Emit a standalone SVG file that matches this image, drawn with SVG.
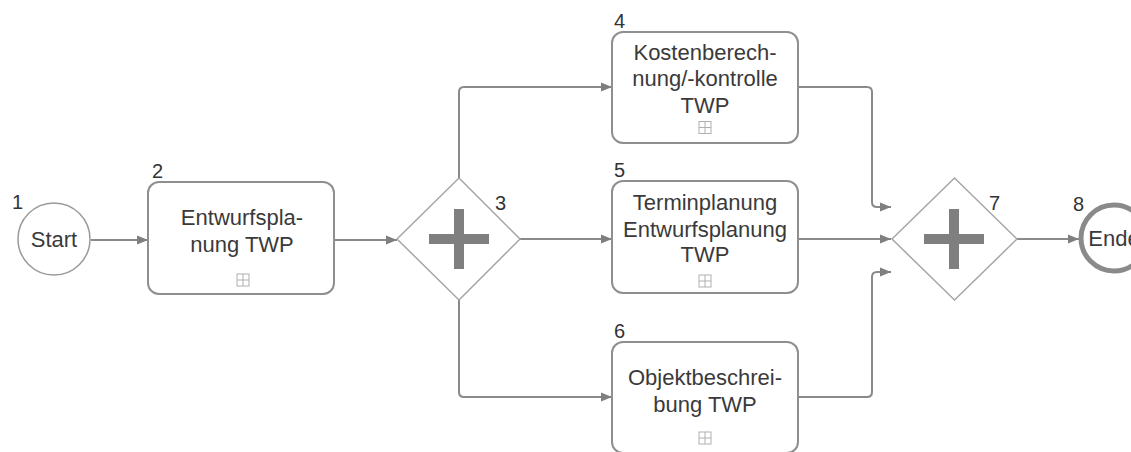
<svg xmlns="http://www.w3.org/2000/svg" width="1131" height="452" viewBox="0 0 1131 452">
<style>
.task{fill:#fff;stroke:#8f8f8f;stroke-width:2}
.gw{fill:#fff;stroke:#a6a6a6;stroke-width:1.5}
.plus{fill:#7f7f7f}
.lbl{font-family:"Liberation Sans",Arial,sans-serif;font-size:22px;fill:#3a3a3a;text-anchor:middle}
.num{font-family:"Liberation Sans",Arial,sans-serif;font-size:20px;fill:#333}
.sub{fill:#fff;stroke:#b0b0b0;stroke-width:1}
.edge{fill:none;stroke:#8a8a8a;stroke-width:2}
</style>
<defs>
<marker id="arr" markerUnits="userSpaceOnUse" markerWidth="12" markerHeight="10" refX="11" refY="5" orient="auto">
<path d="M0,0.5 L11,5 L0,9.5 z" fill="#7f7f7f"/>
</marker>
<g id="submark">
<rect class="sub" x="-6" y="-6" width="12" height="12"/>
<path d="M0,-6 V6 M-6,0 H6" stroke="#b0b0b0" stroke-width="1"/>
</g>
</defs>
<rect width="1131" height="452" fill="#fff"/>

<g id="connectors">
<path class="edge" marker-end="url(#arr)" d="M91,240 H148"/>
<path class="edge" marker-end="url(#arr)" d="M334,240 H397"/>
<path class="edge" marker-end="url(#arr)" d="M459,178 V92 Q459,87 464,87 H612"/>
<path class="edge" marker-end="url(#arr)" d="M520,239 H612"/>
<path class="edge" marker-end="url(#arr)" d="M459,300 V392 Q459,397 464,397 H612"/>
<path class="edge" marker-end="url(#arr)" d="M798,87 H867 Q872,87 872,92 V202 Q872,207 877,207 H891"/>
<path class="edge" marker-end="url(#arr)" d="M798,239 H891"/>
<path class="edge" marker-end="url(#arr)" d="M798,397 H867 Q872,397 872,392 V277 Q872,272 877,272 H891"/>
<path class="edge" marker-end="url(#arr)" d="M1017,239 H1079"/>
</g>

<g id="node1">
<circle cx="54" cy="239" r="36" fill="#fff" stroke="#9a9a9a" stroke-width="1.5"/>
<text class="lbl" x="54" y="247">Start</text>
<text class="num" x="12" y="209">1</text>
</g>

<g id="node2">
<rect class="task" x="148" y="182" width="186" height="112" rx="11"/>
<text class="lbl" x="242" y="225">Entwurfspla-</text>
<text class="lbl" x="242" y="251.5">nung TWP</text>
<use href="#submark" x="243" y="280"/>
<text class="num" x="152" y="178">2</text>
</g>

<g id="node3">
<polygon class="gw" points="459,178 520,239 459,300 397,239"/>
<rect class="plus" x="429" y="234" width="60" height="10"/>
<rect class="plus" x="454" y="209" width="10" height="60"/>
<text class="num" x="495" y="210">3</text>
</g>

<g id="node4">
<rect class="task" x="612" y="32" width="186" height="111" rx="11"/>
<text class="lbl" x="705" y="59.5">Kostenberech-</text>
<text class="lbl" x="705" y="86">nung/-kontrolle</text>
<text class="lbl" x="705" y="112.5">TWP</text>
<use href="#submark" x="705" y="127.5"/>
<text class="num" x="614" y="28">4</text>
</g>

<g id="node5">
<rect class="task" x="612" y="181" width="186" height="112" rx="11"/>
<text class="lbl" x="705" y="210">Terminplanung</text>
<text class="lbl" x="705" y="236.5">Entwurfsplanung</text>
<text class="lbl" x="705" y="262">TWP</text>
<use href="#submark" x="705" y="281"/>
<text class="num" x="614" y="177">5</text>
</g>

<g id="node6">
<rect class="task" x="612" y="342" width="186" height="111" rx="11"/>
<text class="lbl" x="705" y="385">Objektbeschrei-</text>
<text class="lbl" x="705" y="411.5">bung TWP</text>
<use href="#submark" x="705" y="438"/>
<text class="num" x="614" y="338">6</text>
</g>

<g id="node7">
<polygon class="gw" points="954.5,178 1017,239 954.5,300 892,239"/>
<rect class="plus" x="924" y="234" width="60" height="10"/>
<rect class="plus" x="949" y="209" width="10" height="60"/>
<text class="num" x="989" y="210">7</text>
</g>

<g id="node8">
<circle cx="1114" cy="238" r="33" fill="#fff" stroke="#8a8a8a" stroke-width="5"/>
<text class="lbl" x="1114" y="246">Ende</text>
<text class="num" x="1073" y="211">8</text>
</g>
</svg>
